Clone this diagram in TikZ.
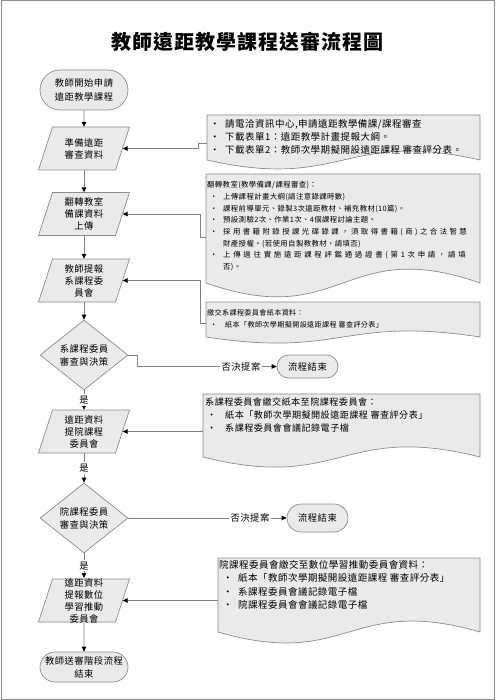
\documentclass[tikz,border=0pt]{standalone}
\usepackage{fontspec}
\newfontfamily\cjk[LetterSpace=5]{Noto Sans CJK TC}
\usetikzlibrary{shapes.geometric,shapes.misc,arrows.meta}
\definecolor{shfill}{HTML}{EAEAEA}
\definecolor{shline}{HTML}{8C8C8C}
\definecolor{cline}{HTML}{808080}
\newcommand\bul[1][15pt]{\makebox[#1][l]{•}}
\newcommand\fs[2]{\fontsize{#1}{#2}\selectfont}
\newcommand\wide[1]{{\addfontfeature{LetterSpace=#1}}}
\newcommand\parashape[2]{\path[shp] ({#1-31.5},{#2-21.5}) -- ({#1+45.5},{#2-21.5}) -- ({#1+31.5},{#2+21.5}) -- ({#1-45.5},{#2+21.5}) -- cycle;}
\newcommand\docshape[5]{\path[shp] (#1,#2) -- (#3,#2) -- (#3,#4) .. controls ({(#1+#3)/2},{#4-#5}) and ({(#1+#3)/2},{#4+#5}) .. (#1,#4) -- cycle;}
\begin{document}
\begin{tikzpicture}[x=1pt,y=-1pt,
  shp/.style={fill=shfill,draw=shline,line width=0.7pt},
  term/.style={shp,rounded rectangle,inner sep=0pt,align=center},
  ptext/.style={inner sep=0pt,align=center,minimum width=77pt,minimum height=43pt,font=\cjk\fs{9.3}{12}},
  dec/.style={shp,diamond,inner sep=0pt,minimum width=88pt,minimum height=60pt,align=center,font=\cjk\fs{9.3}{13}},
  dtext/.style={inner sep=0pt,align=left,anchor=north west},
  dbox/.style={inner sep=0pt,anchor=north west},
  conn/.style={draw=cline,line width=0.7pt},
  arr/.style={conn,-{Triangle[length=5pt,width=4.5pt,color=black]}},
  lbl/.style={fill=white,inner sep=1.5pt,font=\cjk\fs{9.3}{11}},
]
\useasboundingbox (0,0) rectangle (495,700);
\draw[draw=shline,line width=1pt] (1,1) rectangle (494,699);
\node[font=\cjk\fs{20}{22}\bfseries] (title) at (247,42) {教師遠距教學課程送審流程圖};

% left column
\node[term,minimum width=88pt,minimum height=40pt,font=\cjk\fs{9.3}{14}] (t1) at (84,90) {教師開始申請\\遠距教學課程};
\parashape{84}{148.5}
\node[ptext] (p1) at (84,148.5) {準備遠距\\審查資料};
\parashape{84}{214}
\node[ptext] (p2) at (84,214) {翻轉教室\\備課資料\\上傳};
\parashape{84}{280.5}
\node[ptext] (p3) at (84,280.5) {教師提報\\系課程委\\員會};
\node[dec] (dm1) at (84,355) {系課程委員\\審查與決策};
\parashape{84}{431.5}
\node[ptext] (p4) at (84,431.5) {遠距資料\\提院課程\\委員會};
\node[dec] (dm2) at (84,518) {院課程委員\\審查與決策};
\parashape{84}{600.5}
\node[ptext] (p5) at (84,600.5) {遠距資料\\提報數位\\學習推動\\委員會};
\node[term,minimum width=88pt,minimum height=30pt,font=\cjk\fs{9.3}{13}] (t4) at (84,667) {教師送審階段流程\\結束};

% end terminals
\node[term,minimum width=61pt,minimum height=23pt,font=\cjk\fs{9.3}{11}] (t2) at (307.5,366.5) {流程結束};
\node[term,minimum width=61pt,minimum height=28pt,font=\cjk\fs{9.3}{11}] (t3) at (317.5,518) {流程結束};
\node[lbl] (no1) at (241,366.5) {否決提案};
\node[lbl] (no2) at (250,518) {否決提案};

% documents
\docshape{207}{115}{480}{160}{31}
\node[dbox,minimum width=273pt,minimum height=45pt] (d1) at (207,115) {};
\node[dtext,font=\cjk\fs{9.5}{13}] (d1t) at (210,119) {\bul 請電洽資訊中心,申請遠距教學備課/課程審查\\\bul 下載表單1：遠距教學計畫提報大綱。\\\bul 下載表單2：教師次學期擬開設遠距課程 審查評分表。};

\docshape{206}{174}{480}{283}{48}
\node[dbox,minimum width=274pt,minimum height=109pt] (d2) at (206,174) {};
\node[dtext,font=\cjk\fs{7.4}{11.7}] (d2t) at (207,181.3) {翻轉教室(教學備課/課程審查)：\\
\hspace*{3pt}\bul[13pt]上傳課程計畫大綱(請注意錄課時數)\\
\hspace*{3pt}\bul[13pt]課程前導單元、錄製3次遠距教材、補充教材(10篇)。\\
\hspace*{3pt}\bul[13pt]預設測驗2次、作業1次、4個課程討論主題。\\
\hspace*{3pt}\bul[13pt]{\addfontfeature{LetterSpace=33}採用書籍附錄授課光碟錄課，須取得書籍(商)之合法智慧}\\
\hspace*{16pt}財產授權。(若使用自製教教材，請填否)\\
\hspace*{3pt}\bul[13pt]{\addfontfeature{LetterSpace=37}上傳過往實施遠距課程評鑑通過證書(第1次申請，請填}\\
\hspace*{16pt}否)。};

\docshape{206}{302}{480}{337}{21}
\node[dbox,minimum width=274pt,minimum height=35pt] (d3) at (206,302) {};
\node[dtext,font=\cjk\fs{7.1}{12}] (d3t) at (207,309.5) {繳交系課程委員會紙本資料：\\\hspace*{3pt}\bul[15pt]紙本「教師次學期擬開設遠距課程 審查評分表」};

\docshape{203}{394}{480}{457}{35}
\node[dbox,minimum width=277pt,minimum height=63pt] (d4) at (203,394) {};
\node[dtext,font=\cjk\fs{9.1}{13}] (d4t) at (205,397.5) {系課程委員會繳交紙本至院課程委員會：\\\hspace*{2pt}\bul[18pt]紙本「教師次學期擬開設遠距課程 審查評分表」\\\hspace*{2pt}\bul[18pt]系課程委員會會議記錄電子檔};

\docshape{218}{558}{480}{632}{38}
\node[dbox,minimum width=262pt,minimum height=74pt] (d5) at (218,558) {};
\node[dtext,font=\cjk\fs{9.5}{13.5}] (d5t) at (219,560) {院課程委員會繳交至數位學習推動委員會資料：\\\hspace*{4pt}\bul[15pt]紙本「教師次學期擬開設遠距課程 審查評分表」\\\hspace*{4pt}\bul[15pt]系課程委員會議記錄電子檔\\\hspace*{4pt}\bul[15pt]院課程委員會會議記錄電子檔};

% connectors
\draw[arr] (t1) -- (p1);
\draw[arr] (p1) -- (p2);
\draw[arr] (p2) -- (p3);
\draw[arr] (p3) -- (dm1);
\draw[arr] (dm1) -- node[lbl] (y1) {是} (p4);
\draw[arr] (p4) -- node[lbl] (y2) {是} (dm2);
\draw[arr] (dm2) -- node[lbl] (y3) {是} (p5);
\draw[arr] (p5) -- (t4);
\draw[conn] (dm1.east) -- ++(9,0) |- (no1.west);
\draw[arr] (no1.east) -- (t2.west);
\draw[conn] (dm2.east) -- (no2.west);
\draw[arr] (no2.east) -- (t3.west);
\draw[arr] (d1.west |- 0,143) -- ++(-9,0) |- (p1.east);
\draw[arr] (d2.west |- 0,237) -- ++(-6,0) |- (p2.east);
\draw[arr] (d3.west |- 0,323) -- ++(-6,0) |- (p3.east);
\draw[arr] (d4.west |- p4.east) -- (p4.east);
\draw[arr] (d5.west |- p5.east) -- (p5.east);
\end{tikzpicture}
\end{document}
